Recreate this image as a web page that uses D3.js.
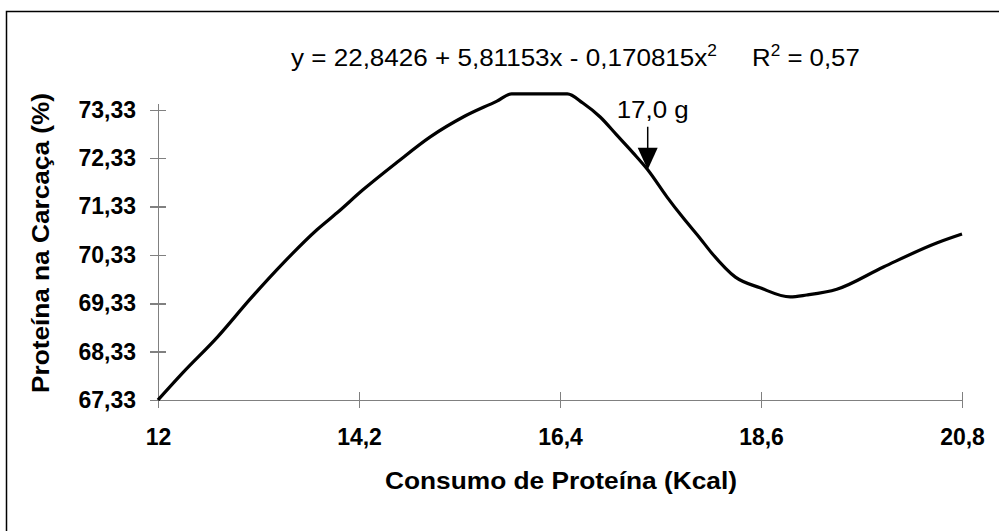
<!DOCTYPE html>
<html>
<head>
<meta charset="UTF-8">
<title>Proteína na Carcaça</title>
<style>
    body {
        margin: 0;
        padding: 0;
        background-color: #fff;
    }
    svg text {
        font-family: "Liberation Sans", Arial, sans-serif;
        fill: #000;
    }
    .axis path, .axis line {
        stroke: #808080;
        stroke-width: 1.5px;
        shape-rendering: crispEdges;
    }
    .axis text {
        font-size: 23px;
        font-weight: bold;
    }
    .title {
        font-size: 24px;
        font-weight: bold;
    }
</style>
<script src="https://d3js.org/d3.v7.min.js"></script>
</head>
<body>
<div id="chart"></div>
<script>
    // values
    var consumo = [12.00, 12.27, 12.65, 13.01, 13.37, 13.74, 13.96, 14.24, 14.62, 14.98,
                   15.34, 15.71, 15.87, 16.18, 16.48, 16.65, 16.84, 17.02, 17.20, 17.36,
                   17.57, 17.75, 17.93, 18.06, 18.32, 18.59, 18.92, 19.10, 19.43, 19.94,
                   20.53, 20.80];
    var proteina = [67.33, 67.89, 68.63, 69.42, 70.16, 70.85, 71.20, 71.67, 72.25, 72.77,
                    73.18, 73.51, 73.66, 73.66, 73.66, 73.47, 73.18, 72.81, 72.44, 72.09,
                    71.53, 71.09, 70.68, 70.37, 69.87, 69.65, 69.46, 69.50, 69.62, 70.08,
                    70.58, 70.76];

    var xTicks = [12, 14.2, 16.4, 18.6, 20.8];
    var yTicks = [67.33, 68.33, 69.33, 70.33, 71.33, 72.33, 73.33];

    var arrowX = 17.36;   // "17,0 g" marker
    var arrowY = 72.09;
    var arrowLabel = "17,0 g";

    var width = 999, height = 531;

    var svg = d3.select("#chart").append("svg")
        .attr("width", width)
        .attr("height", height);

    // outer frame (right/bottom fall outside the picture)
    svg.append("rect")
        .attr("x", 6.5)
        .attr("y", 11.5)
        .attr("width", 1000)
        .attr("height", 600)
        .attr("fill", "none")
        .attr("stroke", "#000")
        .attr("stroke-width", 1.5);

    var x = d3.scaleLinear()
        .domain([12, 20.8])
        .range([158, 962]);

    var y = d3.scaleLinear()
        .domain([67.33, 73.47])
        .range([400, 103]);

    var fmt = function(d) { return String(+d.toFixed(2)).replace(".", ","); };

    var xAxis = svg.append("g")
        .attr("class", "axis")
        .attr("transform", "translate(0,400)")
        .call(d3.axisBottom(x).tickValues(xTicks).tickSize(8).tickSizeOuter(0).tickFormat(fmt));
    xAxis.selectAll(".tick line").attr("y1", -8);
    xAxis.selectAll(".tick text").attr("y", 45).attr("dy", 0);

    var yAxis = svg.append("g")
        .attr("class", "axis")
        .attr("transform", "translate(158,0)")
        .call(d3.axisLeft(y).tickValues(yTicks).tickSize(8).tickSizeOuter(0).tickPadding(14).tickFormat(fmt));
    yAxis.selectAll(".tick line").attr("x1", 8);

    var line = d3.line()
        .x(function(d, i) { return x(consumo[i]); })
        .y(function(d) { return y(d); })
        .curve(d3.curveMonotoneX);

    svg.append("path")
        .datum(proteina)
        .attr("d", line)
        .attr("fill", "none")
        .attr("stroke", "#000")
        .attr("stroke-width", 3.2)
        .attr("stroke-linejoin", "round");

    // arrow marker
    var tipY = y(arrowY);
    var ax = x(arrowX);
    svg.append("line")
        .attr("x1", ax).attr("x2", ax)
        .attr("y1", tipY - 43).attr("y2", tipY - 20)
        .attr("stroke", "#000")
        .attr("stroke-width", 1.5);
    svg.append("path")
        .attr("d", "M" + (ax - 10) + "," + (tipY - 22) + "L" + (ax + 10) + "," + (tipY - 22) + "L" + ax + "," + tipY + "Z")
        .attr("fill", "#000");
    svg.append("g")
        .attr("transform", "translate(" + (ax + 5) + "," + (tipY - 52) + ") scale(1.08,1)")
      .append("text")
        .attr("text-anchor", "middle")
        .style("font-size", "24px")
        .text(arrowLabel);

    // equation, slightly stretched like the original
    var eq = svg.append("g")
        .attr("transform", "translate(291,66) scale(1.085,1)")
      .append("text")
        .style("font-size", "24px");
    eq.append("tspan").text("y = 22,8426 + 5,81153x - 0,170815x");
    eq.append("tspan").attr("dy", -10).style("font-size", "16px").text("2");

    var r2 = svg.append("g")
        .attr("transform", "translate(752,66) scale(1.075,1)")
      .append("text")
        .style("font-size", "24px");
    r2.append("tspan").text("R");
    r2.append("tspan").attr("dy", -10).style("font-size", "16px").text("2");
    r2.append("tspan").attr("dy", 10).text(" = 0,57");

    // axis titles
    svg.append("text")
        .attr("class", "title")
        .attr("x", 385)
        .attr("y", 489)
        .attr("textLength", 352)
        .attr("lengthAdjust", "spacingAndGlyphs")
        .text("Consumo de Proteína (Kcal)");

    svg.append("text")
        .attr("class", "title")
        .attr("transform", "translate(49,393) rotate(-90)")
        .attr("textLength", 300)
        .attr("lengthAdjust", "spacingAndGlyphs")
        .text("Proteína na Carcaça (%)");
</script>
</body>
</html>
